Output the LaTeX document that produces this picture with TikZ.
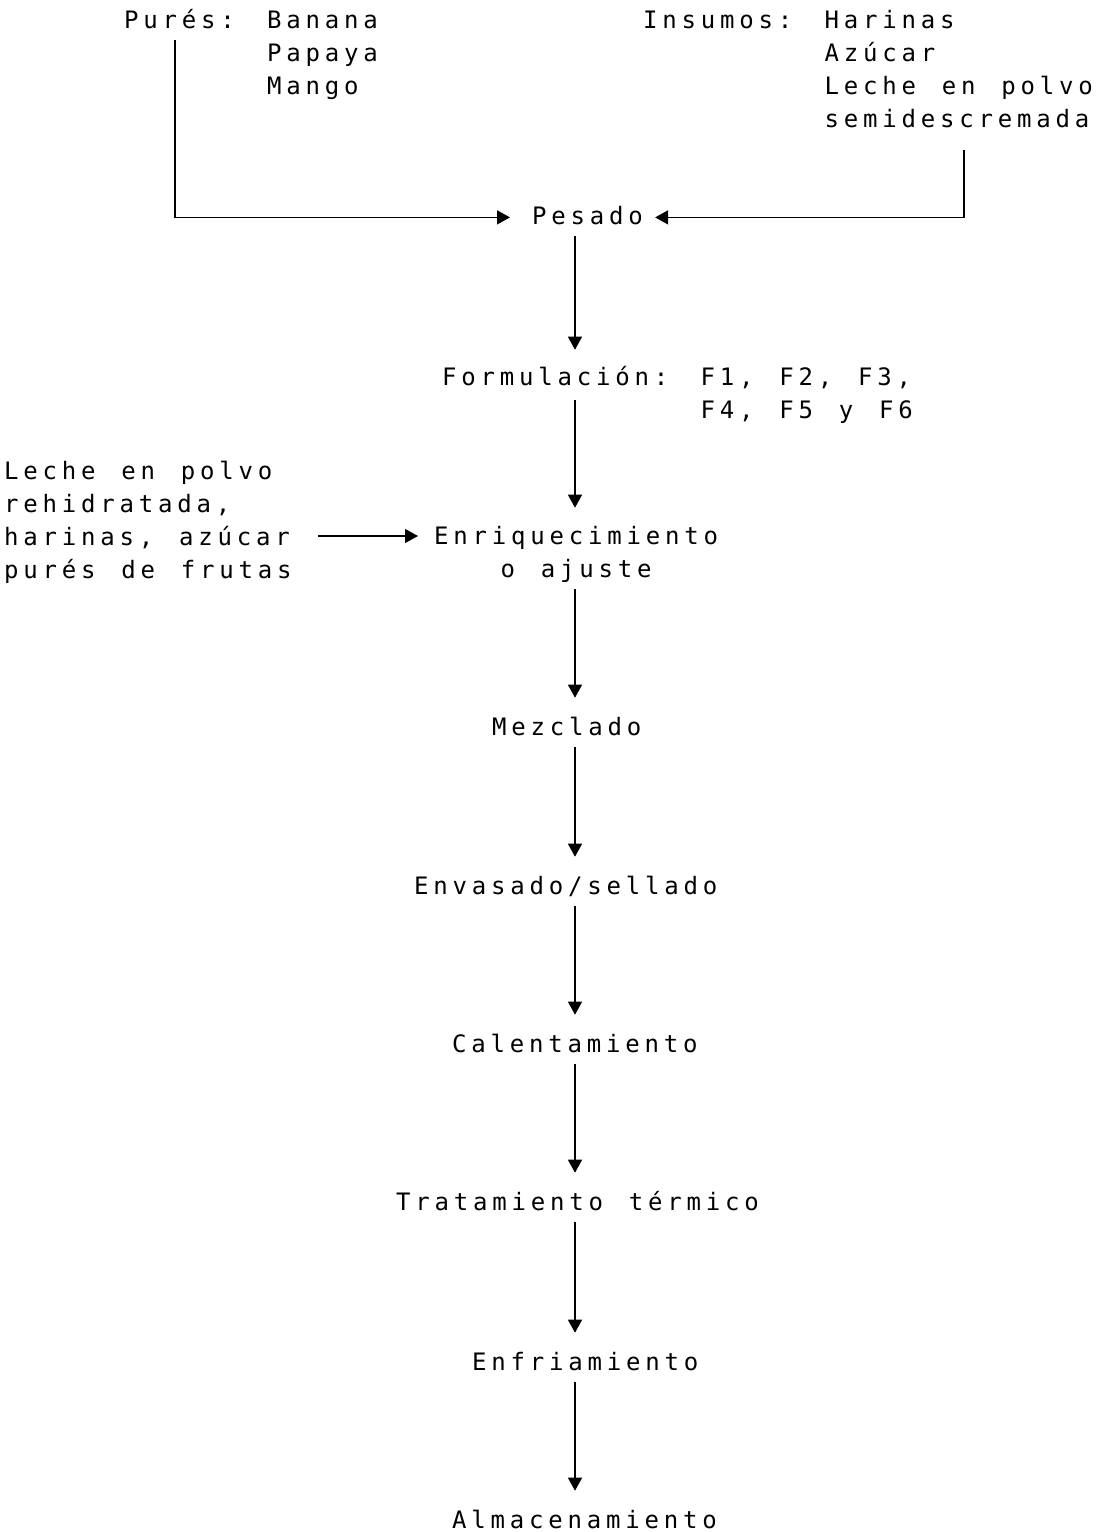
\documentclass[tikz,border=0pt]{standalone}
\usepackage{fontspec}
\usetikzlibrary{arrows.meta}
% wide-pitched monospaced face, like a dot-matrix printout;
% word spaces widened to one full character cell
\newfontfamily\dotmono[LetterSpace=20, WordSpace={1.34,0,0}]{DejaVu Sans Mono}
% blocks of lines whose base anchor is the first line's baseline
\newcommand\blk[1]{\begin{tabular}[t]{@{}l@{}}#1\end{tabular}}
\newcommand\blkc[1]{\begin{tabular}[t]{@{}c@{}}#1\end{tabular}}
\begin{document}
\begin{tikzpicture}[x=1pt,y=-1pt,
  lbl/.style={inner sep=0pt, anchor=base west,
    font={\dotmono\fontsize{24}{33}\selectfont}},
  flow/.style={line width=1.3pt, -{Triangle[width=14pt,length=13pt]}}]
\useasboundingbox (0,0) rectangle (1100,1532);

% raw materials
\node[lbl] (pures) at (124,28)
  {\blk{Purés: Banana\\\hphantom{Purés: }Papaya\\\hphantom{Purés: }Mango}};
\node[lbl] (insumos) at (643,28)
  {\blk{Insumos: Harinas\\\hphantom{Insumos: }Azúcar\\\hphantom{Insumos: }Leche en polvo\\\hphantom{Insumos: }semidescremada}};

% process steps
\node[lbl] (pesado) at (532,224) {\blk{Pesado}};
\node[lbl] (form) at (442,385)
  {\blk{Formulación: F1, F2, F3,\\\hphantom{Formulación: }F4, F5 y F6}};
\node[lbl] (extra) at (4,479)
  {\blk{Leche en polvo\\rehidratada,\\harinas, azúcar\\purés de frutas}};
\node[lbl] (enriq) at (434,544) {\blkc{Enriquecimiento\\o ajuste}};
\node[lbl] (mezcla) at (492,735) {\blk{Mezclado}};
\node[lbl] (envas) at (414,894) {\blk{Envasado/sellado}};
\node[lbl] (calent) at (452,1052) {\blk{Calentamiento}};
\node[lbl] (trat) at (396,1210) {\blk{Tratamiento térmico}};
\node[lbl] (enfri) at (472,1370) {\blk{Enfriamiento}};
\node[lbl] (almac) at (452,1528) {\blk{Almacenamiento}};

% guide positions for the connectors
\coordinate (axis) at (575,0);
\coordinate (lx) at (175,0);
\coordinate (rx) at (964,0);
\coordinate (p0) at ([yshift=-12pt]pures.base);
\coordinate (f0) at ([yshift=-15pt]form.base);
\coordinate (e0) at ([yshift=8pt]enriq.base west);

% feeds into weighing
\draw[flow, shorten >=22pt] (p0 -| lx) |- (pesado.west);
\draw[flow, shorten <=13pt, shorten >=12pt] (insumos.south -| rx) |- (pesado.east);

% main line
\draw[flow, shorten <=2pt, shorten >=12pt] (pesado.south -| axis) -- (form.north -| axis);
\draw[flow, shorten >=13pt] (f0 -| axis) -- (enriq.north -| axis);
\draw[flow, shorten <=2pt, shorten >=14pt] (enriq.south -| axis) -- (mezcla.north -| axis);
\draw[flow, shorten <=2pt, shorten >=14pt] (mezcla.south -| axis) -- (envas.north -| axis);
\draw[flow, shorten <=2pt, shorten >=14pt] (envas.south -| axis) -- (calent.north -| axis);
\draw[flow, shorten <=2pt, shorten >=14pt] (calent.south -| axis) -- (trat.north -| axis);
\draw[flow, shorten <=2pt, shorten >=14pt] (trat.south -| axis) -- (enfri.north -| axis);
\draw[flow, shorten <=2pt, shorten >=14pt] (enfri.south -| axis) -- (almac.north -| axis);

% enrichment input
\draw[flow, shorten <=26pt, shorten >=16pt] (e0 -| extra.east) -- (e0);
\end{tikzpicture}
\end{document}
